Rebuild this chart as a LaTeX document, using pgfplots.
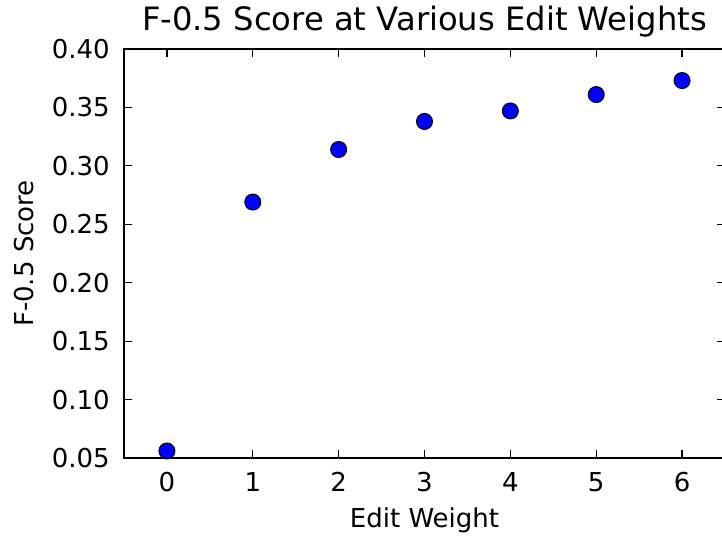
\documentclass[border=0pt]{standalone}
\usepackage{pgfplots}
\pgfplotsset{compat=1.18}
\usepackage{fontspec}
\setmainfont{DejaVu Sans}
\begin{document}
\begin{tikzpicture}
\useasboundingbox (-124bp,-80bp) rectangle (598bp,458bp);
\begin{axis}[
  scale only axis,
  width=601bp, height=409bp,
  xmin=-0.5, xmax=6.5, ymin=0.05, ymax=0.40,
  xtick={0,1,2,3,4,5,6},
  ytick={0.05,0.10,0.15,0.20,0.25,0.30,0.35,0.40},
  yticklabel style={/pgf/number format/fixed,/pgf/number format/precision=2,/pgf/number format/fixed zerofill, anchor=east, inner sep=0pt, xshift=-14bp},
  xticklabel style={anchor=north, inner sep=0pt, yshift=-14bp},
  /pgf/number format/assume math mode=true,
  tick align=inside,
  major tick length=8bp,
  tick style={line width=1.2bp, black},
  axis line style={line width=2bp},
  ticklabel style={font=\fontsize{26bp}{30bp}\selectfont},
  label style={font=\fontsize{26bp}{30bp}\selectfont},
  title style={font=\fontsize{32.2bp}{36bp}\selectfont, at={(axis description cs:0.5,1)}, anchor=base, yshift=13bp, inner sep=0pt},
  xlabel style={at={(axis description cs:0.5,0)}, anchor=base, yshift=-69bp, inner sep=0pt},
  ylabel style={at={(axis description cs:-0.1514,0.5)}, anchor=base, inner sep=0pt},
  title={F-0.5 Score at Various Edit Weights},
  xlabel={Edit Weight},
  ylabel={F-0.5 Score},
  clip=false,
]
\addplot[only marks, mark=*, mark size=8bp, mark options={fill=blue, draw=black, line width=1bp}]
coordinates {
(0,0.056) (1,0.269) (2,0.314) (3,0.338) (4,0.347) (5,0.361) (6,0.373)
};
\end{axis}
\end{tikzpicture}
\end{document}
